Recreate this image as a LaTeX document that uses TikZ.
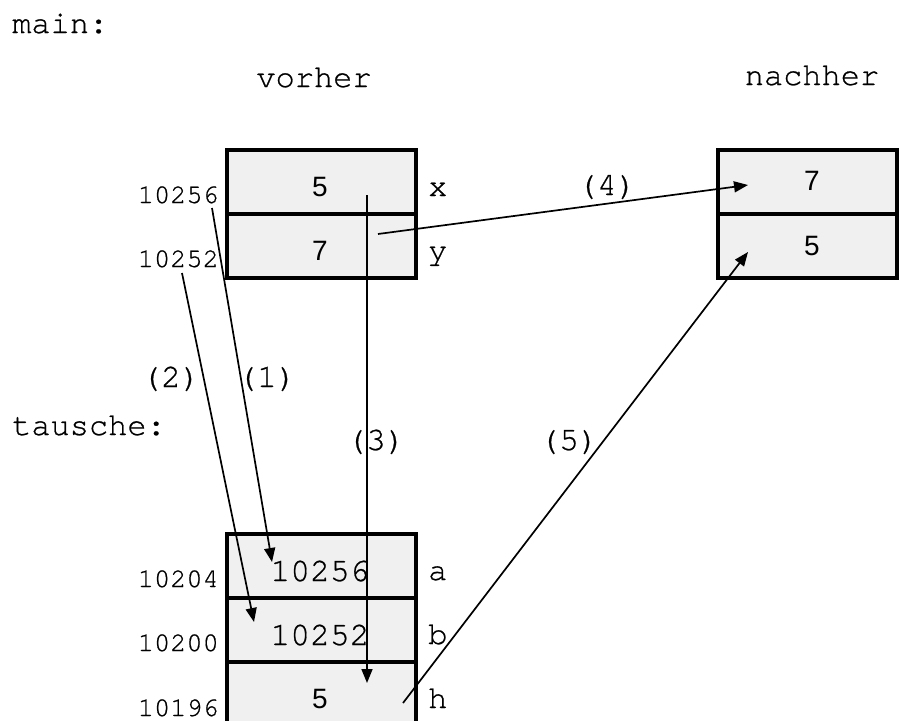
\documentclass[tikz,border=0pt]{standalone}
\usepackage{fontspec}
\usetikzlibrary{arrows.meta}
\newfontfamily\cour[FakeBold=0.7]{TeX Gyre Cursor}
\newfontfamily\sansv{Liberation Sans}
\definecolor{boxgray}{RGB}{240,240,240}
\begin{document}
\begin{tikzpicture}[x=1pt,y=-1pt,
  cellbg/.style={fill=boxgray, draw=none, inner sep=0pt, minimum width=189pt, minimum height=64pt},
  rcellbg/.style={cellbg, minimum width=179pt},
  boxline/.style={draw=black, line width=4pt},
  big/.style={inner sep=0pt, font=\cour\fontsize{32}{36}\selectfont},
  addr/.style={inner sep=0pt, anchor=base east, font=\cour\fontsize{27}{30}\selectfont},
  val/.style={inner sep=0pt, anchor=base, font=\cour\fontsize{33}{36}\selectfont},
  sval/.style={inner sep=0pt, anchor=base, font=\sansv\fontsize{28}{30}\selectfont},
  numlab/.style={inner sep=0pt, anchor=base, font=\cour\fontsize{33}{35}\selectfont},
  arr/.style={draw=black, line width=1.7pt, -{Triangle[length=14pt,width=11pt]}}]
\useasboundingbox (0,0) rectangle (899,720);
\clip (0,0) rectangle (899,720);

% cell backgrounds
\node[cellbg] (cx) at (321.5,182) {};
\node[cellbg] (cy) at (321.5,246) {};
\node[rcellbg] (rx) at (807.5,182) {};
\node[rcellbg] (ry) at (807.5,246) {};
\node[cellbg] (ca) at (321.5,566) {};
\node[cellbg] (cb) at (321.5,630) {};
\node[cellbg, minimum height=66pt] (ch) at (321.5,695) {};

% box outlines
\draw[boxline] (cx.north west) rectangle (cy.south east);
\draw[boxline] (cx.south west) -- (cx.south east);
\draw[boxline] (rx.north west) rectangle (ry.south east);
\draw[boxline] (rx.south west) -- (rx.south east);
\draw[boxline] (ca.north west) rectangle (ch.south east);
\draw[boxline] (ca.south west) -- (ca.south east);
\draw[boxline] (cb.south west) -- (cb.south east);

% headings
\node[big, anchor=base west] (tmain) at (12,33) {main:};
\node[big, anchor=base] (tvorher) at (314,87) {vorher};
\node[big, anchor=base] (tnachher) at (812,85) {nachher};
\node[big, anchor=base west] (ttausche) at (12,435) {tausche:};

% variable names
\node[big, anchor=base west] (nx) at (428,196) {x};
\node[big, anchor=base west] (ny) at (428,260) {y};
\node[big, anchor=base west] (na) at (428,580) {a};
\node[big, anchor=base west] (nb) at (428,644) {b};
\node[big, anchor=base west] (nh) at (428,708) {h};

% addresses
\node[addr] (ad1) at (219,203) {10256};
\node[addr] (ad2) at (219,267) {10252};
\node[addr] (ad3) at (219,587) {10204};
\node[addr] (ad4) at (219,651) {10200};
\node[addr] (ad5) at (219,716) {10196};

% values
\node[sval] (vx) at (320,196) {5};
\node[sval] (vy) at (320,260) {7};
\node[sval] (vrx) at (812,190) {7};
\node[sval] (vry) at (812,255) {5};
\node[val] (va) at (320,581) {10256};
\node[val] (vb) at (320,645) {10252};
\node[sval] (vh) at (320,708) {5};

% step labels
\node[numlab] (l1) at (267,387) {(1)};
\node[numlab] (l2) at (171,387) {(2)};
\node[numlab] (l3) at (376,450) {(3)};
\node[numlab] (l4) at (607,195) {(4)};
\node[numlab] (l5) at (569,450) {(5)};

% arrow endpoints
\coordinate (s1) at (212,208); \coordinate (e1) at (272,562);
\coordinate (s2) at (182,273); \coordinate (e2) at (254,622);
\coordinate (s3) at (367,195); \coordinate (e3) at (367,683);
\coordinate (s4) at (378,234); \coordinate (e4) at (748,185);
\coordinate (s5) at (403,703); \coordinate (e5) at (748,252);

\draw[arr] (s1) -- (e1);
\draw[arr] (s2) -- (e2);
\draw[arr] (s3) -- (e3);
\draw[arr] (s4) -- (e4);
\draw[arr] (s5) -- (e5);
\end{tikzpicture}
\end{document}
